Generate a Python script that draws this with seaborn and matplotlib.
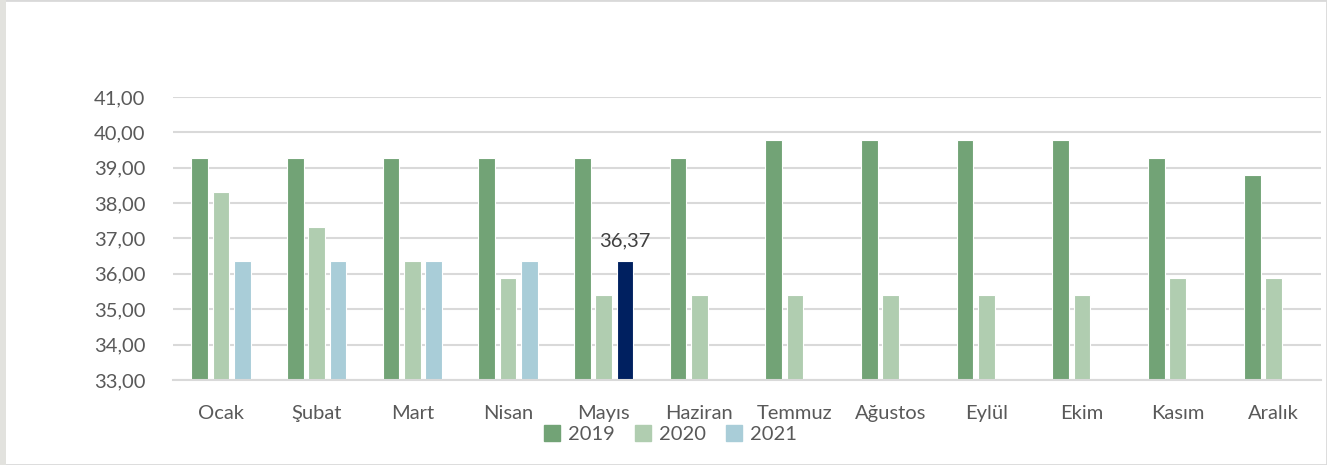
import numpy as np
import pandas as pd
import matplotlib.pyplot as plt
import seaborn as sns
from matplotlib.ticker import FuncFormatter
from matplotlib.patches import Rectangle

# Data
months = ['Ocak', 'Şubat', 'Mart', 'Nisan', 'Mayıs', 'Haziran', 'Temmuz',
          'Ağustos', 'Eylül', 'Ekim', 'Kasım', 'Aralık']
years = ['2019', '2020', '2021']
v2019 = [39.28, 39.28, 39.28, 39.28, 39.28, 39.28, 39.78, 39.78, 39.78, 39.78, 39.28, 38.80]
v2020 = [38.31, 37.33, 36.37, 35.88, 35.40, 35.40, 35.40, 35.40, 35.40, 35.40, 35.88, 35.88]
v2021 = [36.37, 36.37, 36.37, 36.37, 36.37] + [np.nan] * 7
highlight_month = 'Mayıs'

colors = ['#72a376', '#b0cdb0', '#a9cdd8']
highlight_color = '#002060'

df = pd.DataFrame({
    'month': months * 3,
    'year': [y for y in years for _ in months],
    'value': v2019 + v2020 + v2021,
})

sns.set_style('white')
plt.rcParams['font.family'] = ['Lato', 'DejaVu Sans']

fig = plt.figure(figsize=(13.27, 4.65), dpi=100)
ax = fig.add_axes([0.1304, 0.1828, 0.8653, 0.6086])

sns.barplot(data=df, x='month', y='value', hue='year', order=months,
            hue_order=years, palette=colors, saturation=1, width=0.668, gap=0.215,
            edgecolor='white', linewidth=0.8, errorbar=None, ax=ax)

ax.set_ylim(33, 41)
ax.set_yticks(np.arange(33, 42, 1))
ax.yaxis.set_major_formatter(FuncFormatter(lambda v, p: f'{v:.2f}'.replace('.', ',')))
ax.set_xlim(-0.5, len(months) - 0.5)
ax.set_xlabel('')
ax.set_ylabel('')
ax.grid(True, axis='y', color='#d9d9d9', linewidth=1.5)
ax.set_axisbelow(True)
for s in ['top', 'right', 'left']:
    ax.spines[s].set_visible(False)
ax.spines['bottom'].set_color('#d9d9d9')
ax.spines['bottom'].set_linewidth(1.5)
ax.tick_params(axis='both', length=0, labelsize=14.5, labelcolor='#595959')
ax.tick_params(axis='x', pad=18)
ax.tick_params(axis='y', pad=20)

# highlight the latest 2021 value and label it
container = ax.containers[2]
idx = months.index(highlight_month)
bar = container.patches[idx]
bar.set_facecolor(highlight_color)
ax.annotate(f'{v2021[idx]:.2f}'.replace('.', ','),
            (bar.get_x() + bar.get_width() / 2, bar.get_height()),
            xytext=(0, 8), textcoords='offset points', ha='center', va='bottom',
            fontsize=14.5, color='#404040')

handles = [Rectangle((0, 0), 1, 1, color=c) for c in colors]
ax.legend(handles, years, loc='upper center', bbox_to_anchor=(0.433, -0.11),
          ncol=3, frameon=False, fontsize=14.5, handlelength=0.8, handleheight=0.8,
          handletextpad=0.4, columnspacing=1.0, labelcolor='#595959',
          borderpad=0.2)

# chart frame
fig.patches.append(Rectangle((0, 0), 1, 1, transform=fig.transFigure, fill=False,
                             edgecolor='#d9d9d9', linewidth=2))
fig.patches.append(Rectangle((0, 0), 6 / 1327, 1, transform=fig.transFigure,
                             facecolor='#e2e2de', edgecolor='none'))

fig.savefig('out.png', dpi=100)
